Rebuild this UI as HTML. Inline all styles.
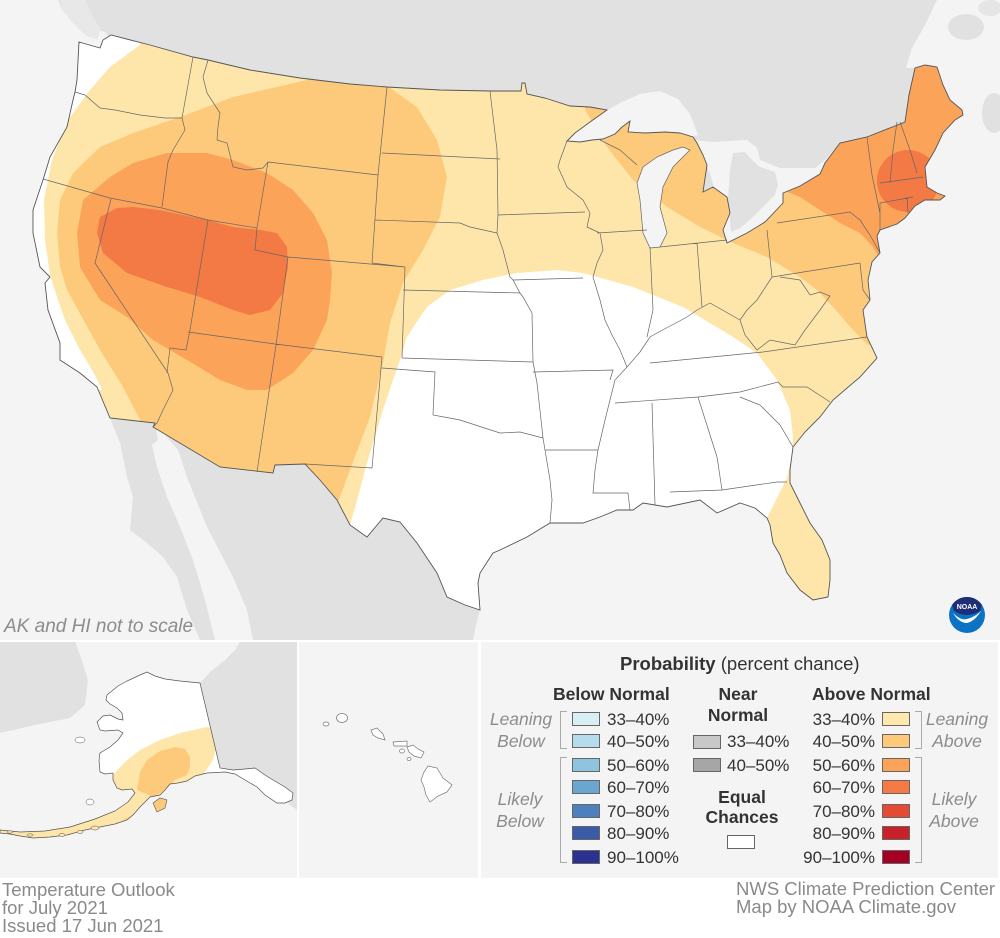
<!DOCTYPE html>
<html><head><meta charset="utf-8">
<style>
html,body{margin:0;padding:0;background:#fff;}
svg{display:block;}
text{font-family:"Liberation Sans",sans-serif;}
</style></head>
<body>
<svg width="1000" height="938" viewBox="0 0 1000 938" xmlns="http://www.w3.org/2000/svg">
<defs>
<clipPath id="us"><path id="usp" d="M79,42 L100,48 L103,40 L111,35 L150,45 L193,57 L208,60 L250,70 L300,78 L350,84 L387,87 L440,90 L490,91 L521,91 L522,83 L525,83 L527,94 L545,98 L570,106 L590,107 L607,110 L590,122 L575,133 L567,141 L580,142 L592,140 L603,139 L615,134 L622,127 L630,121 L628,132 L645,133 L665,132 L680,133 L693,137 L697,143 L703,155 L707,165 L703,192 L713,187 L727,197 L730,213 L723,230 L727,243 L747,233 L765,222 L783,203 L783,193 L800,186 L820,174 L825,163 L840,143 L867,137 L905,122 L909,95 L915,68 L925,65 L937,67 L943,85 L950,100 L962,110 L963,115 L955,120 L943,133 L935,150 L925,167 L927,187 L937,193 L945,196 L940,200 L925,200 L915,206 L905,218 L897,224 L880,230 L877,236 L880,253 L872,262 L868,280 L870,300 L863,310 L867,337 L877,358 L860,377 L833,400 L820,417 L805,432 L793,447 L790,470 L790,483 L800,503 L810,523 L822,540 L830,560 L830,580 L828,597 L813,600 L800,590 L787,573 L780,555 L773,543 L770,525 L767,518 L755,508 L740,503 L717,513 L700,500 L667,507 L643,503 L633,510 L617,510 L600,517 L583,523 L550,523 L527,537 L500,550 L493,553 L480,573 L478,583 L480,610 L465,605 L447,597 L437,573 L417,543 L400,522 L383,518 L367,537 L350,525 L337,500 L320,480 L305,464 L275,465 L273,473 L220,467 L153,427 L155,423 L110,418 L97,387 L80,373 L60,360 L60,343 L48,310 L45,283 L50,277 L40,267 L33,233 L33,210 L43,180 L50,157 L67,127 L73,100 L75,92 L77,80 Z"/></clipPath>
<clipPath id="ak"><path id="akp" d="M107,695 L118,686 L127,681 L140,675 L147,672 L155,676 L165,679 L180,681 L200,683 L220,768 L233,770 L245,769 L255,768 L265,775 L273,780 L285,787 L293,793 L292,800 L285,803 L277,803 L265,795 L257,787 L245,780 L235,774 L225,772 L207,773 L195,776 L187,781 L178,783 L170,784 L165,790 L160,795 L150,797 L145,802 L140,807 L133,815 L127,820 L115,824 L100,827 L85,830 L67,835 L50,837 L33,838 L20,836 L10,834 L0,833 L0,830 L20,832 L45,831 L70,827 L95,819 L115,811 L128,802 L135,793 L132,789 L122,790 L117,788 L113,780 L113,773 L105,774 L100,772 L99,760 L100,753 L110,747 L118,740 L123,733 L118,730 L105,731 L100,730 L97,722 L103,716 L110,715 L118,719 L123,720 L122,713 L117,708 L110,704 L106,700 Z"/></clipPath>
</defs>

<!-- MAIN MAP -->
<rect x="0" y="0" width="1000" height="640" fill="#f4f4f4"/>
<!-- Canada -->
<path d="M58,0 L937,0 L925,25 L912,48 L906,68 L915,68 L905,122 L867,137 L840,143 L825,160 L800,180 L780,195 L760,215 L740,235 L720,245 L680,245 L600,200 L500,150 L300,100 L111,40 L105,32 L90,28 L75,20 L62,10 Z" fill="#e1e1e1"/>
<path d="M60,0 L85,0 L92,15 L100,28 L98,40 L85,35 L72,22 L62,10 Z" fill="#e8e8e8"/>
<ellipse cx="966" cy="27" rx="18" ry="13" fill="#e1e1e1"/>
<ellipse cx="994" cy="113" rx="12" ry="20" fill="#e1e1e1"/>
<ellipse cx="990" cy="8" rx="12" ry="8" fill="#e6e6e6"/>
<!-- lakes -->
<g fill="#f4f4f4">
<path d="M565,142 L580,128 L600,114 L620,103 L640,94 L660,91 L678,99 L690,114 L698,135 L680,140 L600,145 Z"/>
<path d="M680,117 L693,130 L693,140 L713,142 L747,140 L757,148 L760,160 L780,168 L813,168 L827,174 L830,180 L825,188 L800,192 L785,196 L775,210 L760,225 L745,237 L730,245 L725,245 L722,235 L718,210 L712,180 L705,160 L697,145 Z"/>
</g>
<path d="M733,153 L745,152 L752,160 L760,167 L775,172 L778,185 L775,195 L765,205 L752,218 L740,228 L731,232 L728,200 L730,170 Z" fill="#e1e1e1"/>
<!-- Mexico -->
<path d="M155,425 L220,467 L273,473 L275,465 L305,464 L337,500 L350,525 L367,537 L383,518 L400,522 L417,543 L437,573 L447,597 L480,610 L476,625 L473,640 L253,640 L247,610 L233,577 L207,527 L187,477 L178,450 L165,435 Z" fill="#e1e1e1"/>
<path d="M110,418 L155,423 L158,440 L152,445 L157,467 L167,497 L180,527 L193,560 L205,600 L215,640 L200,640 L187,610 L177,577 L163,557 L147,543 L130,530 L133,497 L127,477 L120,443 Z" fill="#e1e1e1"/>

<!-- US fills -->
<g clip-path="url(#us)">
<rect x="0" y="0" width="1000" height="640" fill="#fee6ab"/>
<path d="M140,45 L110,67 L90,90 L68,120 L52,160 L44,200 L45,240 L50,275 L58,300 L65,320 L80,350 L95,375 L102,390 L0,400 L0,0 L140,0 Z" fill="#ffffff"/>
<path d="M350,525 L358,497 L365,470 L374,440 L383,410 L392,383 L400,360 L407,337 L418,320 L427,307 L450,290 L483,280 L517,273 L557,270 L583,273 L633,287 L683,307 L700,317 L733,337 L757,353 L777,380 L790,410 L793,437 L792,455 L787,478 L767,518 L760,560 L480,640 L340,560 Z" fill="#ffffff"/>
<path d="M307,80 L320,60 L390,60 L390,88 L417,107 L437,140 L447,177 L440,217 L423,250 L403,283 L390,323 L383,363 L370,417 L350,470 L337,505 L330,560 L140,560 L140,420 L123,387 L100,350 L78,310 L67,290 L60,267 L57,233 L60,200 L73,173 L100,147 L133,133 L180,117 L233,97 Z" fill="#fdca7b"/>
<path d="M585,110 L600,135 L607,147 L633,180 L667,207 L700,227 L733,243 L767,257 L800,277 L817,290 L833,307 L853,330 L868,345 L1000,345 L1000,0 L585,0 Z" fill="#fdca7b"/>
<path d="M167,153 L207,153 L233,160 L267,173 L293,190 L313,213 L327,240 L332,273 L330,300 L327,320 L313,350 L293,373 L267,390 L247,390 L220,380 L187,360 L153,340 L127,317 L100,300 L80,267 L77,233 L83,200 L110,177 L133,163 Z" fill="#fca35a"/>
<path d="M765,180 L783,190 L800,197 L820,210 L840,223 L860,233 L873,247 L882,262 L1000,262 L1000,0 L765,0 Z" fill="#fca35a"/>
<path d="M117,208 L100,217 L97,233 L103,253 L127,273 L167,287 L200,297 L233,310 L250,315 L270,310 L283,293 L288,267 L287,247 L277,233 L260,230 L233,227 L207,220 L160,210 L133,207 Z" fill="#f37945"/>
<circle cx="908" cy="181" r="31" fill="#f37945"/>
</g>
<!-- Lake Michigan -->
<path d="M637,183 L643,167 L657,157 L673,150 L683,147 L690,150 L673,167 L663,187 L660,207 L667,233 L660,247 L650,248 L643,233 L640,200 Z" fill="#f4f4f4" stroke="#666" stroke-width="0.7"/>
<!-- state borders -->
<path fill="none" stroke="#666" stroke-width="0.7" d="
M111,199 L95,263 L168,373 M168,373 L173,390 L163,410 L157,423 L153,427
M208,220 L190,330 L186,350 L170,348 L167,373
M188,332 L275,344 L382,357
M288,257 L276,345 M276,345 L257,472
M382,357 L372,468 L305,464
M257,228 L255,250 L288,257 L405,267
M268,162 L257,228 M268,162 L378,175
M208,60 L203,77 L207,93 L220,113 L218,127 L217,140 L227,143 L233,167 L247,170 L263,168 L268,162
M193,57 L182,118
M75,92 L85,95 L100,108 L115,110 L140,115 L165,118 L182,118
M182,118 L185,130 L173,150 L168,162 L162,207
M43,179 L110,198 L162,208 L208,220 L257,228
M387,87 L378,175 L372,263
M382,153 L500,159
M375,220 L460,223 L470,227 L497,233
M372,263 L405,267 M405,267 L402,358
M403,290 L520,293
M402,358 L533,362
M382,368 L435,372 L433,415 L460,420 L500,433 L520,432 L543,438
M533,362 L532,313 L523,297 L520,293 L513,280 L510,277 L503,250 L497,233
M513,280 L583,278
M533,362 L537,383 L543,438 L545,450 L550,480 L552,500 L550,523
M533,372 L613,370 L610,380
M545,450 L598,450
M490,91 L497,150 L498,215 L497,233
M498,215 L585,212
M567,141 L560,160 L558,167 L567,187 L583,200 L590,213 L587,227 L600,233 L603,250 L597,263 L593,277 L600,300 L605,320 L612,335 L620,350 L627,367
M627,367 L640,352 L650,337 L657,333 L687,317 L697,310 L710,303 L740,320
M597,233 L647,230
M600,140 L620,150 L637,165
M650,247 L653,310 L647,337
M697,243 L702,307
M660,247 L727,240
M767,230 L772,277
M772,277 L757,300 L747,310 L740,320
M777,223 L850,212 L860,220
M772,277 L860,263
M860,220 L870,235 L880,253
M867,137 L872,175 L880,213
M897,122 L893,150 L890,183
M900,122 L910,150 L917,173
M880,183 L923,177
M880,203 L913,197
M907,197 L908,213
M880,203 L880,230
M860,263 L863,290 L870,300
M780,277 L800,280 L810,295 L820,292 L830,296 L820,310 L805,330 L795,345 L770,340 L757,350 L745,335 L740,320
M763,352 L867,337
M650,363 L763,352
M615,403 L698,397 L740,392 L778,382 L783,387 L807,387 L830,402
M740,397 L760,405 L780,425 L793,447
M652,403 L655,505
M698,397 L717,457 L722,490
M670,492 L722,490 L777,482 L787,482
M627,367 L615,380 L610,400 L605,420 L598,450 L595,470 L593,493 L628,493 L630,510
"/>
<use href="#usp" fill="none" stroke="#555" stroke-width="0.9"/>

<text x="4" y="632" font-size="19" font-style="italic" fill="#8c8c8c">AK and HI not to scale</text>

<!-- NOAA logo -->
<g transform="translate(967,615)">
<circle r="18" fill="#0b72c4"/>
<path d="M-15,-10 A18,18 0 0 1 15,-10 L13,-4 Q0,4 -13,-4 Z" fill="#1e2f78"/>
<path d="M-14,-2 Q-6,6 0,4 Q8,2 14,-4 Q8,6 0,8 Q-8,8 -14,-2 Z" fill="#fff"/>
<text x="0" y="-6" font-size="7" font-weight="bold" fill="#fff" text-anchor="middle">NOAA</text>
</g>

<!-- ALASKA PANEL -->
<rect x="0" y="642" width="297" height="236" fill="#f4f4f4"/>
<path d="M0,642 L75,642 L80,655 L88,680 L85,705 L70,718 L35,725 L0,733 Z" fill="#e1e1e1"/>
<path d="M200,683 L210,672 L225,660 L235,650 L240,642 L297,642 L297,810 L290,805 L280,797 L265,787 L250,776 L235,770 L220,768 Z" fill="#e1e1e1"/>
<use href="#akp" fill="#ffffff"/>
<g clip-path="url(#ak)">
<path d="M113,775 L125,762 L140,750 L160,740 L180,733 L207,727 L213,728 L217,745 L213,760 L205,772 L205,820 L0,850 L0,830 L113,790 Z" fill="#fee6ab"/>
<path d="M137,790 L140,772 L147,760 L160,751 L175,747 L185,749 L190,757 L190,767 L187,775 L175,780 L165,790 L150,800 L140,810 L120,822 L100,830 L90,835 L95,845 L140,830 L160,800 Z" fill="#fdca7b"/>
</g>
<use href="#akp" fill="none" stroke="#555" stroke-width="0.7"/>
<path d="M153,803 L160,798 L167,800 L165,808 L157,812 Z" fill="#fdca7b" stroke="#555" stroke-width="0.6"/>
<g fill="#fee6ab" stroke="#555" stroke-width="0.5">
<ellipse cx="95" cy="828" rx="4" ry="2"/><ellipse cx="80" cy="832" rx="3" ry="1.5"/>
<ellipse cx="62" cy="835" rx="3" ry="1.5"/><ellipse cx="30" cy="835" rx="3" ry="1.2"/><ellipse cx="10" cy="832" rx="3" ry="1.2"/>
<ellipse cx="90" cy="802" rx="4" ry="3" fill="#fff"/><ellipse cx="80" cy="740" rx="5" ry="3" fill="#fff"/>
</g>

<!-- HAWAII PANEL -->
<rect x="299" y="642" width="179" height="236" fill="#f4f4f4"/>
<g fill="#fff" stroke="#777" stroke-width="0.7">
<ellipse cx="326" cy="724" rx="3" ry="2"/>
<ellipse cx="342" cy="718" rx="5.5" ry="4.5"/>
<path d="M371,730 L377,728 L383,734 L385,740 L378,738 L373,735 Z"/>
<path d="M393,742 L407,741 L407,746 L394,746 Z"/>
<ellipse cx="402" cy="751" rx="2.5" ry="2"/>
<path d="M407,747 L413,745 L418,749 L424,752 L421,758 L414,756 L409,752 Z"/>
<ellipse cx="409" cy="759" rx="2" ry="1.5"/>
<path d="M428,766 L437,768 L443,778 L452,785 L447,792 L438,796 L430,802 L426,795 L424,787 L421,780 L424,772 Z"/>
</g>

<!-- LEGEND -->
<rect x="481" y="642" width="517" height="236" fill="#f4f4f4"/>
<text x="620" y="670" font-size="18.5" fill="#333"><tspan font-weight="bold">Probability</tspan> (percent chance)</text>
<g font-size="17.5" font-weight="bold" fill="#333">
<text x="553" y="700">Below Normal</text>
<text x="738" y="700" text-anchor="middle">Near</text>
<text x="738" y="721" text-anchor="middle">Normal</text>
<text x="812" y="700">Above Normal</text>
<text x="742" y="803" text-anchor="middle">Equal</text>
<text x="742" y="823" text-anchor="middle">Chances</text>
</g>
<g font-size="17" fill="#333">
<text x="607" y="725">33–40%</text>
<text x="607" y="747">40–50%</text>
<text x="607" y="771">50–60%</text>
<text x="607" y="793">60–70%</text>
<text x="607" y="817">70–80%</text>
<text x="607" y="839">80–90%</text>
<text x="607" y="863">90–100%</text>
<text x="875" y="725" text-anchor="end">33–40%</text>
<text x="875" y="747" text-anchor="end">40–50%</text>
<text x="875" y="771" text-anchor="end">50–60%</text>
<text x="875" y="793" text-anchor="end">60–70%</text>
<text x="875" y="817" text-anchor="end">70–80%</text>
<text x="875" y="839" text-anchor="end">80–90%</text>
<text x="875" y="863" text-anchor="end">90–100%</text>
<text x="727" y="747">33–40%</text>
<text x="727" y="771">40–50%</text>
</g>
<g stroke="#666" stroke-width="1">
<rect x="572.5" y="712.5" width="27" height="13" fill="#d8eff6"/>
<rect x="572.5" y="734.5" width="27" height="13" fill="#b4dcec"/>
<rect x="572.5" y="758.5" width="27" height="13" fill="#8fc4de"/>
<rect x="572.5" y="780.5" width="27" height="13" fill="#6aa6ce"/>
<rect x="572.5" y="804.5" width="27" height="13" fill="#4d80bd"/>
<rect x="572.5" y="826.5" width="27" height="13" fill="#3a5ba8"/>
<rect x="572.5" y="850.5" width="27" height="13" fill="#2b3290"/>
<rect x="882.5" y="712.5" width="27" height="13" fill="#fee8ad"/>
<rect x="882.5" y="734.5" width="27" height="13" fill="#fdca7b"/>
<rect x="882.5" y="758.5" width="27" height="13" fill="#fca35a"/>
<rect x="882.5" y="780.5" width="27" height="13" fill="#f57a46"/>
<rect x="882.5" y="804.5" width="27" height="13" fill="#e34c32"/>
<rect x="882.5" y="826.5" width="27" height="13" fill="#c92128"/>
<rect x="882.5" y="850.5" width="27" height="13" fill="#a30023"/>
<rect x="693.5" y="735.5" width="27" height="13" fill="#c8c8c8"/>
<rect x="693.5" y="758.5" width="27" height="13" fill="#a6a6a6"/>
<rect x="727.5" y="835.5" width="27" height="13" fill="#ffffff"/>
</g>
<g fill="none" stroke="#aaa" stroke-width="1">
<path d="M567,711.5 L560.5,711.5 L560.5,748.5 L567,748.5"/>
<path d="M567,757.5 L560.5,757.5 L560.5,862.5 L567,862.5"/>
<path d="M915,711.5 L921.5,711.5 L921.5,748.5 L915,748.5"/>
<path d="M915,757.5 L921.5,757.5 L921.5,862.5 L915,862.5"/>
</g>
<g font-size="17.5" font-style="italic" fill="#8c8c8c" text-anchor="middle">
<text x="521" y="725">Leaning</text>
<text x="521" y="747">Below</text>
<text x="520" y="805">Likely</text>
<text x="520" y="827">Below</text>
<text x="957" y="725">Leaning</text>
<text x="957" y="747">Above</text>
<text x="954" y="805">Likely</text>
<text x="954" y="827">Above</text>
</g>

<!-- footer text -->
<g font-size="18.5" fill="#8a8a8a">
<text x="2" y="896">Temperature Outlook</text>
<text x="2" y="914">for July 2021</text>
<text x="2" y="932">Issued 17 Jun 2021</text>
<text x="736" y="895">NWS Climate Prediction Center</text>
<text x="736" y="913">Map by NOAA Climate.gov</text>
</g>
</svg>
</body></html>
